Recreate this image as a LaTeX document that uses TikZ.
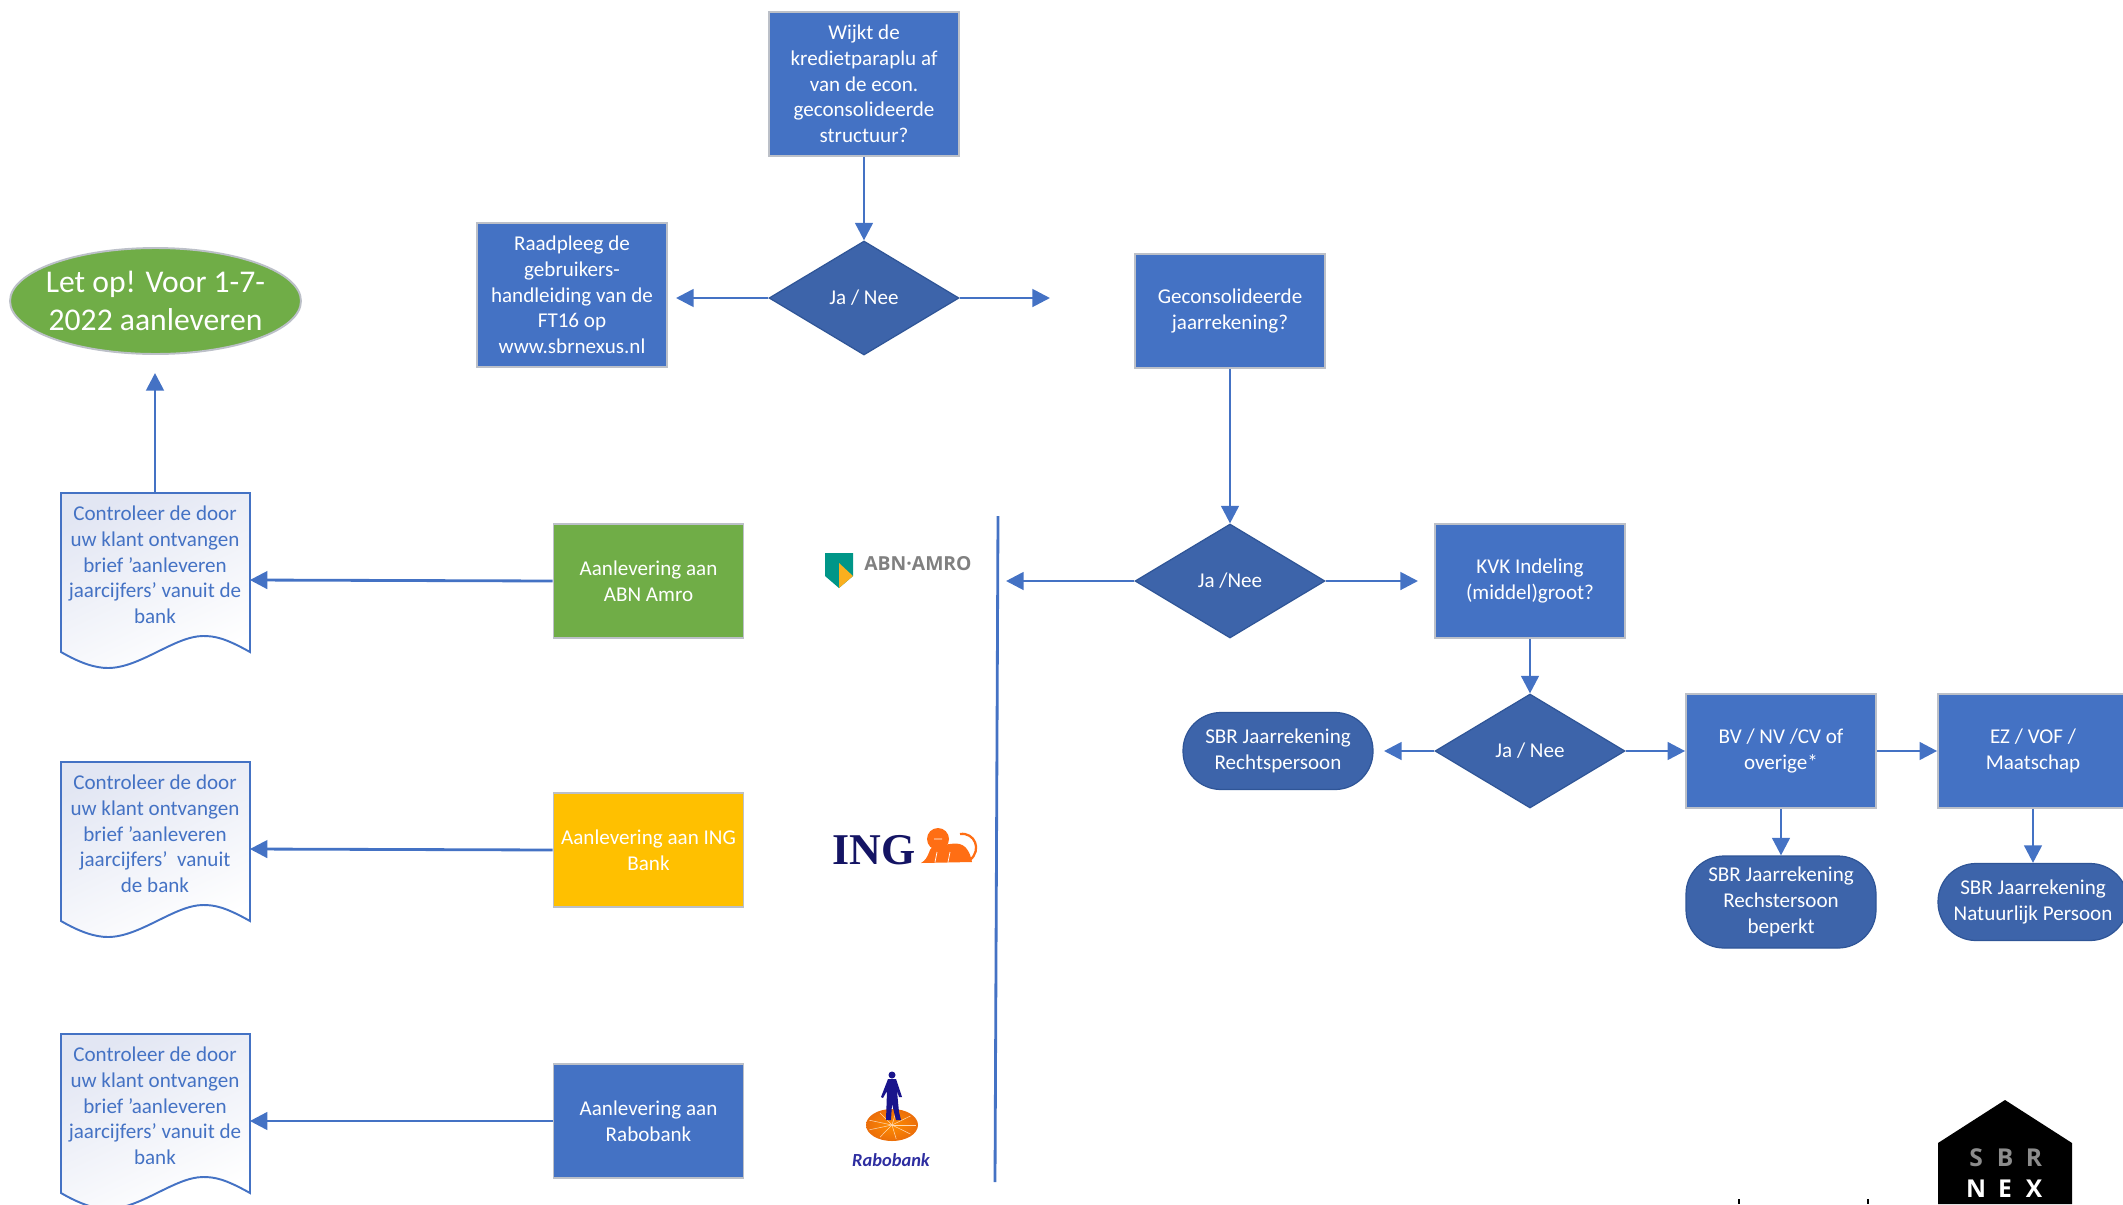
\documentclass[tikz,border=0pt]{standalone}
\usepackage{fontspec}
\setmainfont{Carlito}
\newfontfamily\logofont{Open Sans}
\newfontfamily\ingfont{Liberation Serif}
\usetikzlibrary{arrows.meta,shapes.geometric}

\definecolor{boxblue}{HTML}{4472C4}
\definecolor{darkblue}{HTML}{3D64AA}
\definecolor{darkedge}{HTML}{2F5597}
\definecolor{edgegray}{HTML}{BCC0C8}
\definecolor{docblue}{HTML}{E2E6F3}
\definecolor{boxgreen}{HTML}{70AD47}
\definecolor{boxyellow}{HTML}{FFC000}
\definecolor{lionorange}{HTML}{FF6E14}
\definecolor{rabonavy}{HTML}{19148C}

\tikzset{
  stepbox/.style={rectangle, fill=boxblue, draw=edgegray, line width=1pt, text=white, align=center,
    font=\fontsize{12}{14.6}\selectfont, minimum width=3.8cm, minimum height=2.28cm, inner sep=0pt},
  question/.style={diamond, aspect=1.667, fill=darkblue, draw=darkedge, line width=0.7pt, text=white, align=center,
    font=\fontsize{12}{14.6}\selectfont, minimum width=3.8cm, minimum height=2.28cm, inner sep=0pt},
  outcome/.style={rectangle, rounded corners=0.76cm, fill=darkblue, draw=darkedge, line width=0.7pt, text=white, align=center,
    font=\fontsize{12}{14.6}\selectfont, minimum width=3.8cm, minimum height=1.54cm, inner sep=0pt},
  doctext/.style={text=boxblue, align=center, font=\fontsize{12}{14.6}\selectfont, inner sep=0pt},
  flow/.style={-{Triangle[length=10pt,width=10pt]}, draw=boxblue, line width=1.6pt},
}

\begin{document}
\begin{tikzpicture}[x=0.02cm, y=-0.02cm]
  \useasboundingbox (0,0) rectangle (2123,1204);

  % top row
  \node [stepbox, minimum height=2.88cm] (parapluq) at (864,84) {Wijkt de\\kredietparaplu af\\van de econ.\\geconsolideerde\\structuur?};
  \node [question] (paraplu) at (864,298) {Ja / Nee};
  \node [stepbox, minimum height=2.88cm] (raadpleeg) at (572,295) {Raadpleeg de\\gebruikers-\\handleiding van de\\FT16 op\\www.sbrnexus.nl};
  \node [stepbox] (geconq) at (1230,311) {Geconsolideerde\\jaarrekening?};
  \node [ellipse, fill=boxgreen, draw=edgegray, line width=1.1pt, inner sep=0pt,
    minimum width=5.82cm, minimum height=2.12cm] (letop) at (155.5,301) {};
  \node [text=white, align=center, inner sep=0pt, font=\fontsize{18}{22}\selectfont] (letoptext) at (155.5,301) {Let op! Voor 1-7-\\2022 aanleveren};

  % right part
  \node [question] (gecon) at (1230,581) {Ja /Nee};
  \node [stepbox] (kvkq) at (1530,581) {KVK Indeling\\(middel)groot?};
  \node [question] (kvk) at (1530,751) {Ja / Nee};
  \node [outcome] (rechtspersoon) at (1278,751) {SBR Jaarrekening\\Rechtspersoon};
  \node [stepbox] (bvnv) at (1781,751) {BV / NV /CV of\\overige*};
  \node [stepbox] (ezvof) at (2033,751) {EZ / VOF /\\Maatschap};
  \node [outcome, minimum height=1.84cm] (beperkt) at (1781,902) {SBR Jaarrekening\\Rechstersoon\\beperkt};
  \node [outcome] (natuurlijk) at (2033,902) {SBR Jaarrekening\\Natuurlijk Persoon};

  % banks
  \node [stepbox, fill=boxgreen] (abn) at (648.5,581) {Aanlevering aan\\ABN Amro};
  \node [stepbox, fill=boxyellow] (ing) at (648.5,850) {Aanlevering aan ING\\Bank};
  \node [stepbox] (rabo) at (648.5,1121) {Aanlevering aan\\Rabobank};

  % letters
  \foreach \docname/\ypos in {docabn/580, docing/849, docrabo/1121} {
    \path [draw=boxblue, line width=1.1pt, shade, top color=docblue, bottom color=white, shading angle=25, shift={(155,\ypos)}]
      (-94,-87) -- (95,-87) -- (95,72) .. controls (70,58) and (60,56) .. (48,56)
      .. controls (20,56) and (-15,88) .. (-47,88) .. controls (-60,88) and (-75,83) .. (-94,72) -- cycle;
    \node [inner sep=0pt, minimum width=3.78cm, minimum height=3.48cm] (\docname) at (155,\ypos) {};
  }
  \node [doctext] (docabntext) at (155,565) {Controleer de door\\uw klant ontvangen\\brief 'aanleveren\\jaarcijfers' vanuit de\\bank};
  \node [doctext] (docingtext) at (155,834) {Controleer de door\\uw klant ontvangen\\brief 'aanleveren\\jaarcijfers'\ \ vanuit\\de bank};
  \node [doctext] (docrabotext) at (155,1106) {Controleer de door\\uw klant ontvangen\\brief 'aanleveren\\jaarcijfers' vanuit de\\bank};

  % free arrow ends
  \coordinate (raadend) at (676,298);
  \coordinate (rightend) at (1050,298);
  \coordinate (lineend) at (1006,581);
  \coordinate (kvkend) at (1418,581);
  \coordinate (rechtsend) at (1384,751);
  \coordinate (letopend) at (155,373);

  \draw [flow] (parapluq.south) -- (paraplu.north);
  \draw [flow] (paraplu.west) -- (raadend);
  \draw [flow] (paraplu.east) -- (rightend);
  \draw [flow] (geconq.south) -- (gecon.north);
  \draw [flow] (gecon.west) -- (lineend);
  \draw [flow] (gecon.east) -- (kvkend);
  \draw [flow] (kvkq.south) -- (kvk.north);
  \draw [flow] (kvk.west) -- (rechtsend);
  \draw [flow] (kvk.east) -- (bvnv.west);
  \draw [flow] (bvnv.east) -- (ezvof.west);
  \draw [flow] (bvnv.south) -- (beperkt.north);
  \draw [flow] (ezvof.south) -- (natuurlijk.north);
  \draw [flow] (abn.west) -- (docabn.east);
  \draw [flow] (ing.west) -- (docing.east);
  \draw [flow] (rabo.west) -- (docrabo.east);
  \draw [flow] (docabn.north) -- (letopend);

  % dividing line
  \draw [draw=boxblue, line width=1.6pt] (998,516) -- (995,1182);

  % ABN AMRO logo
  \fill [fill={rgb,255:red,0;green,150;blue,136}] (825,553) -- (853,553) -- (853,576) -- (839,588) -- (825,576) -- cycle;
  \fill [fill={rgb,255:red,250;green,175;blue,30}] (839,563) -- (853,576) -- (839,588) -- cycle;
  \node [text=black!50, inner sep=0pt, font=\logofont\bfseries\fontsize{11}{13}\selectfont] (abnlogo) at (918,564) {ABN·AMRO};

  % ING logo
  \node [text={rgb,255:red,20;green,20;blue,100}, inner sep=0pt, font=\ingfont\bfseries\fontsize{25}{28}\selectfont] (inglogo) at (874,850) {ING};
  \fill [lionorange] (938,839) circle [radius=11];
  \fill [lionorange] (921,863) .. controls (930,858) and (928,848) .. (934,846) -- (950,844)
    .. controls (958,843) and (968,842) .. (972,862) -- cycle;
  \draw [draw=lionorange, line width=1.3pt] (960,834) .. controls (975,832) and (982,850) .. (970,860);
  \draw [draw=white, line width=0.4pt] (935,862) -- (937,852) (948,862) -- (950,852) (934,839) -- (942,839);

  % Rabobank logo
  \shade [inner color=orange!90!yellow, outer color={rgb,255:red,235;green,110;blue,10}] (892,1125) ellipse [x radius=26, y radius=16];
  \foreach \ang in {0,40,...,320} {
    \draw [white!70!orange, line width=0.3pt] (892,1125) -- ++(\ang:24 and 14);
  }
  \fill [rabonavy]
    (892,1075) circle [radius=3.5] (888,1079) -- (896,1079) -- (902,1097) -- (899,1097) -- (897,1091) -- (899,1112) -- (901,1120)
    -- (896,1120) -- (892,1104) -- (891,1120) -- (886,1120) -- (887,1091) -- (883,1098) -- (881,1097) -- cycle;
  \node [text={rgb,255:red,45;green,45;blue,160}, inner sep=0pt, font=\bfseries\itshape\fontsize{10.5}{12}\selectfont] (rabologo) at (891,1160) {Rabobank};

  % SBR logo
  \fill [black] (1938,1204) -- (1938,1143) -- (2005,1100) -- (2072,1143) -- (2072,1204) -- cycle;
  \foreach \lx/\lname in {1976/S, 2005/B, 2034/R} {
    \node [text=black!45, inner sep=0pt, font=\logofont\bfseries\fontsize{14}{16}\selectfont] (sbr\lname) at (\lx,1158) {\lname};
  }
  \foreach \lx/\lname in {1976/N, 2005/E, 2034/X} {
    \node [text=white, inner sep=0pt, font=\logofont\bfseries\fontsize{14}{16}\selectfont] (nex\lname) at (\lx,1189) {\lname};
  }
  \draw [line width=1pt] (1739,1199) -- (1739,1204);
  \draw [line width=1pt] (1868,1199) -- (1868,1204);
\end{tikzpicture}
\end{document}
